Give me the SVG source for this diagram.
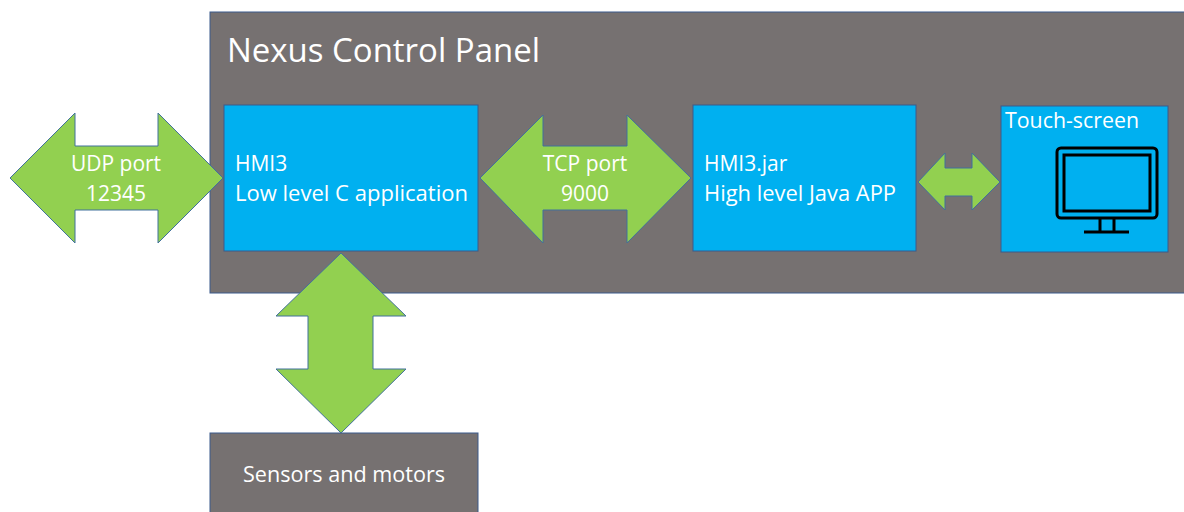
<svg xmlns="http://www.w3.org/2000/svg" width="1184" height="512" viewBox="0 0 1184 512">
<style>
.panel{fill:#767171;stroke:#3B5A8C;stroke-width:1}
.blue{fill:#00B0F0;stroke:#3B5A8C;stroke-width:1}
.arrow{fill:#92D050;stroke:#41719C;stroke-width:1}
.t{font-family:"Open Sans","Noto Sans",sans-serif;fill:#FFFFFF;font-size:21px}
.icon{fill:none;stroke:#000000;stroke-width:3}
</style>
<rect width="1184" height="512" fill="#FFFFFF"/>
<g id="panel">
<rect class="panel" x="210" y="12" width="980" height="281"/>
<text class="t" x="227" y="62" textLength="313" lengthAdjust="spacingAndGlyphs" style="font-size:33px">Nexus Control Panel</text>
</g>
<g id="hmi3">
<rect class="blue" x="224" y="105" width="254" height="146"/>
<text class="t" x="235" y="171">HMI3</text>
<text class="t" x="235" y="201" textLength="233" lengthAdjust="spacingAndGlyphs">Low level C application</text>
</g>
<g id="hmi3jar">
<rect class="blue" x="693" y="105" width="223" height="146"/>
<text class="t" x="704" y="171">HMI3.jar</text>
<text class="t" x="704" y="201" textLength="192" lengthAdjust="spacingAndGlyphs">High level Java APP</text>
</g>
<g id="touchscreen">
<rect class="blue" x="1001" y="106" width="167" height="146"/>
<text class="t" x="1005" y="128" textLength="134" lengthAdjust="spacingAndGlyphs">Touch-screen</text>
<rect class="icon" x="1057" y="148" width="100" height="70" rx="4"/>
<rect class="icon" x="1064" y="155" width="86" height="56" stroke-width="2.5"/>
<path class="icon" d="M1100 218V232M1114 218V232M1084 232H1129"/>
</g>
<g id="sensors">
<rect class="panel" x="210" y="433" width="268" height="90"/>
<text class="t" x="344" y="482" text-anchor="middle" textLength="202" lengthAdjust="spacingAndGlyphs">Sensors and motors</text>
</g>
<g id="connectors">
<g id="udp">
<polygon class="arrow" points="10,178 75,113 75,146 158,146 158,113 223,178 158,243 158,210 75,210 75,243"/>
<text class="t" x="116" y="171" text-anchor="middle">UDP port</text>
<text class="t" x="116" y="201" text-anchor="middle">12345</text>
</g>
<g id="tcp">
<polygon class="arrow" points="480,178 543,115 543,146 627,146 627,115 691,178 627,243 627,210 543,210 543,243"/>
<text class="t" x="585" y="171" text-anchor="middle">TCP port</text>
<text class="t" x="585" y="201" text-anchor="middle">9000</text>
</g>
<polygon id="jar-touch" class="arrow" points="918,182 945,153 945,168 972,168 972,153 1000,182 972,210 972,196 945,196 945,210"/>
<polygon id="hmi3-sensors" class="arrow" points="341,253 406,316 373,316 373,369 406,369 341,433 276,369 308,369 308,316 276,316"/>
</g>
</svg>
